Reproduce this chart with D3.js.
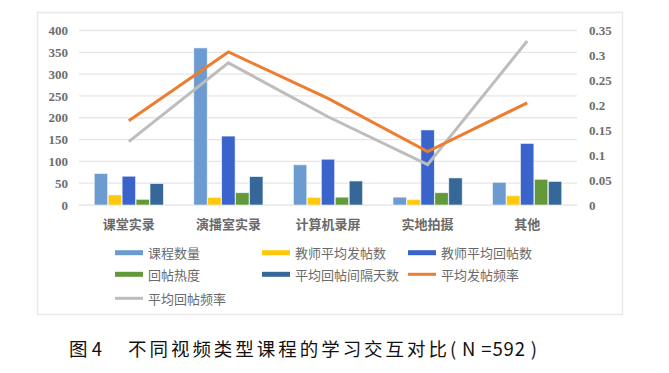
<!DOCTYPE html>
<html><head><meta charset="utf-8">
<script src="https://cdn.jsdelivr.net/npm/d3@7"></script>
<style>body{margin:0;background:#fff}svg{display:block}</style>
</head><body>
<svg id="c" width="669" height="373"></svg>
<script>
const categories = ["课堂实录","演播室实录","计算机录屏","实地拍摄","其他"];
const barSeries = ["课程数量","教师平均发帖数","教师平均回帖数","回帖热度","平均回帖间隔天数"];
const courseCount = [72, 360, 92, 18, 52];
const teacherPosts = [23, 17, 17, 12, 21];
const teacherReplies = [66, 158, 105, 172, 141];
const replyHeat = [13, 28, 18, 28, 59];
const replyInterval = [49, 65, 55, 62, 54];
const lineSeries = ["平均发帖频率","平均回帖频率"];
const postFreq = [0.169, 0.307, 0.214, 0.107, 0.205];
const replyFreq = [0.127, 0.285, 0.177, 0.081, 0.329];
const leftTicks = [0,50,100,150,200,250,300,350,400];
const rightTicks = [0,0.05,0.1,0.15,0.2,0.25,0.3,0.35];
const rightTickLabels = ["0","0.05","0.1","0.15","0.2","0.25","0.3","0.35"];

const barData = [courseCount, teacherPosts, teacherReplies, replyHeat, replyInterval];
const lineData = [postFreq, replyFreq];
const barColors = ["#6b9bd1","#ffc80a","#3a64cc","#64993a","#356899"];
const lineColors = ["#ed7d31","#bdbdbd"];

const svg = d3.select("#c");
svg.append("rect").attr("x",37.5).attr("y",12.5).attr("width",585).attr("height",302)
  .attr("fill","#fff").attr("stroke","#e9e9e9").attr("stroke-width",1.5);

const L = 79, R = 577, T = 30.5, B = 205;
const x0 = d3.scaleBand().domain(categories).range([L,R]).paddingInner(0.3).paddingOuter(0.15);
const x1 = d3.scaleBand().domain(barSeries).range([0,x0.bandwidth()]);
const yL = d3.scaleLinear().domain([0,400]).range([B,T]);
const yR = d3.scaleLinear().domain([0,0.35]).range([B,T]);

svg.append("g").selectAll("line").data(leftTicks).join("line")
  .attr("x1",L).attr("x2",R).attr("y1",d=>yL(d)).attr("y2",d=>yL(d))
  .attr("stroke","#e6e6e6").attr("stroke-width",1.3);

const axisFont = "'Liberation Serif','Times New Roman',serif";
const leftAxis = d3.axisLeft(yL).tickValues(leftTicks).tickSize(0).tickPadding(0);
const gl = svg.append("g").attr("transform",`translate(68,0)`).call(leftAxis);
gl.select(".domain").remove();
gl.selectAll("text").attr("font-family",axisFont).attr("font-weight","bold").attr("font-size",13).attr("fill","#6e6e6e");

const rightAxis = d3.axisRight(yR).tickValues(rightTicks).tickFormat((d,i)=>rightTickLabels[i]).tickSize(0).tickPadding(0);
const gr = svg.append("g").attr("transform",`translate(589,0)`).call(rightAxis);
gr.select(".domain").remove();
gr.selectAll("text").attr("font-family",axisFont).attr("font-weight","bold").attr("font-size",13).attr("fill","#6e6e6e");

barSeries.forEach((s,si)=>{
  svg.append("g").selectAll("rect").data(categories).join("rect")
    .attr("x",(c)=>x0(c)+x1(s)+0.3)
    .attr("width",x1.bandwidth()-0.6)
    .attr("y",(c,i)=>yL(barData[si][i]))
    .attr("height",(c,i)=>B-yL(barData[si][i]))
    .attr("fill",barColors[si]).attr("stroke","#eef3f8").attr("stroke-width",0.6);
});

[1,0].forEach(li=>{
  const line = d3.line().x((d,i)=>x0(categories[i])+x0.bandwidth()/2).y(d=>yR(d));
  svg.append("path").datum(lineData[li]).attr("d",line)
    .attr("fill","none").attr("stroke",lineColors[li]).attr("stroke-width",3).attr("stroke-linejoin","miter");
});

const cjk = "'Noto Sans CJK SC','Noto Sans',sans-serif";
svg.append("g").selectAll("text").data(categories).join("text")
  .attr("x",d=>x0(d)+x0.bandwidth()/2).attr("y",223)
  .attr("text-anchor","middle").attr("dominant-baseline","central")
  .attr("font-family",cjk).attr("font-weight","bold").attr("font-size",13).attr("fill","#6a6a6a")
  .text(d=>d);

const legendItems = [
  {name:barSeries[0], color:barColors[0], type:"bar", x:115, y:252.7},
  {name:barSeries[1], color:barColors[1], type:"bar", x:262, y:252.7},
  {name:barSeries[2], color:barColors[2], type:"bar", x:408, y:252.7},
  {name:barSeries[3], color:barColors[3], type:"bar", x:115, y:274.3},
  {name:barSeries[4], color:barColors[4], type:"bar", x:262, y:274.3},
  {name:lineSeries[0], color:lineColors[0], type:"line", x:408, y:274.3},
  {name:lineSeries[1], color:lineColors[1], type:"line", x:115, y:298.3}
];
const lg = svg.append("g");
legendItems.forEach(it=>{
  lg.append("rect").attr("x",it.x).attr("y",it.y-(it.type==="bar"?2.5:1.5))
    .attr("width",28).attr("height",it.type==="bar"?5:3).attr("fill",it.color);
  lg.append("text").attr("x",it.x+33).attr("y",it.y).attr("dominant-baseline","central")
    .attr("font-family",cjk).attr("font-size",13).attr("fill","#6a6a6a").text(it.name);
});

const tf = "'Noto Sans CJK SC',sans-serif";
svg.append("text").attr("x",69).attr("y",348).attr("dominant-baseline","central")
  .attr("font-family",tf).attr("font-size",18.5).attr("fill","#111").text("图 4");
svg.append("text").attr("x",128).attr("y",348).attr("dominant-baseline","central")
  .attr("font-family",tf).attr("font-size",18.5).attr("fill","#111")
  .attr("textLength",319).attr("lengthAdjust","spacing").text("不同视频类型课程的学习交互对比");
svg.append("text").attr("x",450).attr("y",348).attr("dominant-baseline","central")
  .attr("font-family",tf).attr("font-size",18.5).attr("fill","#111")
  .attr("textLength",87).attr("lengthAdjust","spacing").text("( N =592 )");
</script>
</body></html>
